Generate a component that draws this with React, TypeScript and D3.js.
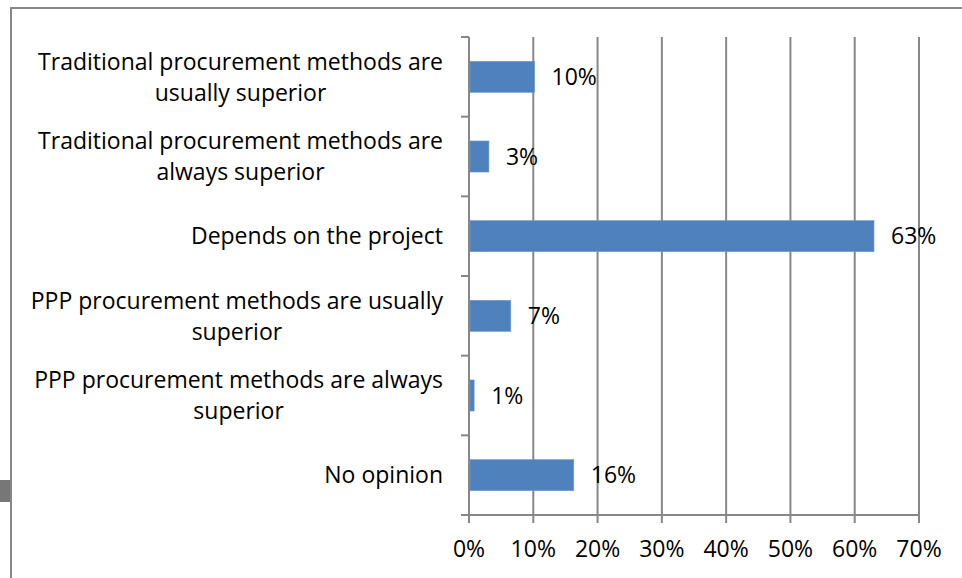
import React from 'react';
import * as d3 from 'd3';

// Response categories, top to bottom, with the line breaks used on the axis
const categoryLines: string[][] = [
  ['Traditional procurement methods are', 'usually superior'],
  ['Traditional procurement methods are', 'always superior'],
  ['Depends on the project'],
  ['PPP procurement methods are usually', 'superior'],
  ['PPP procurement methods are always', 'superior'],
  ['No opinion'],
];
const categories = categoryLines.map(l => l.join(' '));

// Share of respondents (fraction) and the label shown next to each bar
const shares = [0.102, 0.031, 0.63, 0.065, 0.008, 0.163];
const shareLabels = ['10%', '3%', '63%', '7%', '1%', '16%'];

const xTicks = [0, 0.1, 0.2, 0.3, 0.4, 0.5, 0.6, 0.7];

const W = 962;
const H = 578;
const FONT = '"Open Sans", "DejaVu Sans", sans-serif';
const GRID = '#878787';
const BAR = '#4F81BD';
const FS = 23;

// rough text width, used to centre wrapped lines inside a right-aligned block
function textWidth(s: string): number {
  const ctx = document.createElement('canvas').getContext('2d');
  if (!ctx) return s.length * FS * 0.5;
  ctx.font = `${FS}px ${FONT}`;
  return ctx.measureText(s).width;
}

export default function App() {
  const margin = { top: 37, left: 469, right: 43, bottom: 63 };
  const x = d3.scaleLinear().domain([0, 0.7]).range([margin.left, W - margin.right]);
  const yCat = d3.scaleBand<string>().domain(categories).range([margin.top, H - margin.bottom]).padding(0);
  const y = d3.scaleBand<string>()
    .domain(categories)
    .range([margin.top, H - margin.bottom])
    .paddingInner(0.61)
    .paddingOuter(0.305);

  const step = yCat.step();
  const lineH = 31;
  const labelRight = 443;

  return (
    <svg width={W} height={H} style={{ position: 'absolute', left: 0, top: 0, background: '#fff' }}>
      {/* outer chart border, cropped on the right and bottom */}
      <rect x={11} y={8} width={W + 20} height={H + 20} fill="none" stroke={GRID} strokeWidth={2} />
      <rect x={0} y={480} width={10} height={22} fill="#777" />

      {/* vertical grid lines */}
      {xTicks.slice(1).map(t => (
        <line key={t} x1={x(t)} x2={x(t)} y1={margin.top} y2={H - margin.bottom + 8} stroke={GRID} strokeWidth={2} />
      ))}

      {/* bars */}
      {categories.map((c, i) => (
        <rect key={c} x={x(0) + 1} y={y(c)} width={x(shares[i]) - x(0) - 1} height={y.bandwidth()}
          fill={BAR} stroke="#6f9bd1" strokeWidth={0.6} />
      ))}

      {/* category axis */}
      <line x1={x(0)} x2={x(0)} y1={margin.top} y2={H - margin.bottom + 8} stroke={GRID} strokeWidth={2} />
      {[...categories.map(c => yCat(c) as number), H - margin.bottom].map((v, i) => (
        <line key={i} x1={x(0) - 8} x2={x(0)} y1={v} y2={v} stroke={GRID} strokeWidth={2} />
      ))}
      {/* value axis */}
      <line x1={x(0) - 8} x2={x(0.7)} y1={H - margin.bottom} y2={H - margin.bottom} stroke={GRID} strokeWidth={2} />

      {/* category labels */}
      {categoryLines.map((lines, i) => {
        const cy = (yCat(categories[i]) as number) + step / 2;
        const first = cy - ((lines.length - 1) * lineH) / 2 + FS * 0.36;
        const blockW = Math.max(...lines.map(textWidth));
        const cx = labelRight - blockW / 2;
        return (
          <text key={i} fontFamily={FONT} fontSize={FS} fill="#000" textAnchor="middle">
            {lines.map((ln, j) => (
              <tspan key={j} x={cx} y={first + j * lineH}>{ln}</tspan>
            ))}
          </text>
        );
      })}

      {/* value labels */}
      {categories.map((c, i) => (
        <text key={c} x={x(shares[i]) + 17} y={(y(c) as number) + y.bandwidth() / 2 + FS * 0.36}
          fontFamily={FONT} fontSize={FS} fill="#000">{shareLabels[i]}</text>
      ))}

      {/* x tick labels */}
      {xTicks.map(t => (
        <text key={t} x={x(t)} y={557} textAnchor="middle" fontFamily={FONT} fontSize={FS} fill="#000">
          {d3.format('.0%')(t)}
        </text>
      ))}
    </svg>
  );
}
